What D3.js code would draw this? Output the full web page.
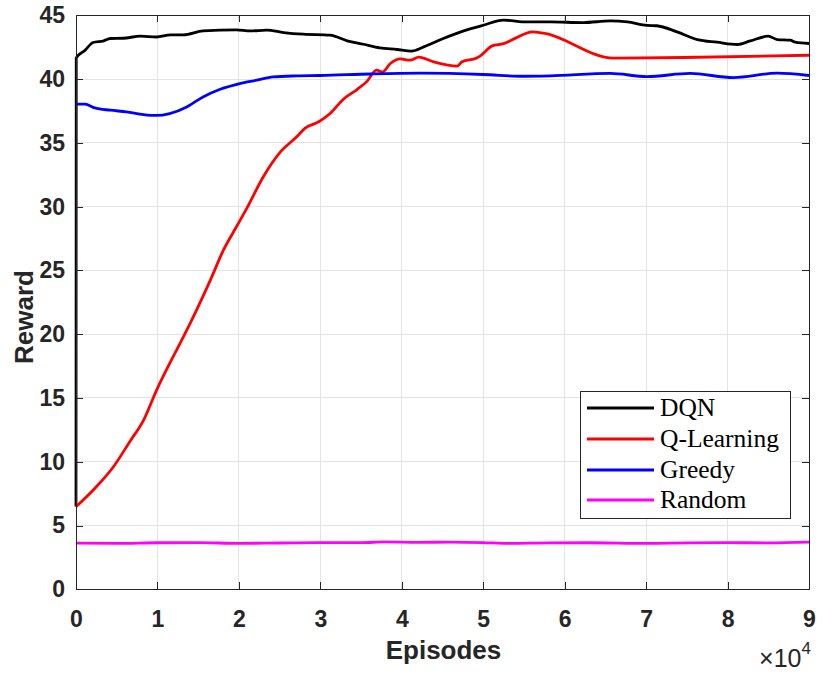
<!DOCTYPE html>
<html lang="en">
<head>
  <meta charset="UTF-8">
  <title>Reward vs Episodes</title>
  <script src="https://d3js.org/d3.v7.min.js"></script>
  <style>
    body, html {
      margin: 0;
      padding: 0;
      background-color: #fff;
    }

    .axis path, .axis line {
      stroke: #262626;
      shape-rendering: crispEdges;
    }

    .axis text {
      font-family: 'Liberation Sans', Arial, sans-serif;
      font-weight: bold;
      font-size: 23px;
      fill: #262626;
    }

    .grid line {
      stroke: #e3e3e3;
      stroke-width: 1;
      shape-rendering: crispEdges;
    }

    .label {
      font-family: 'Liberation Sans', Arial, sans-serif;
      font-weight: bold;
      font-size: 26px;
      fill: #262626;
    }

    .legend text {
      font-family: 'Liberation Serif', 'Times New Roman', serif;
      font-size: 25.5px;
      fill: #000;
    }
  </style>
</head>
<body>

  <svg id="chart"></svg>

  <script>
    // episodes in units of 10^4
    const dqnX = [0, 0.003, 0.11, 0.21, 0.34, 0.42, 0.58, 0.79, 0.99, 1.16, 1.32, 1.56, 1.97, 2.14, 2.34, 2.55, 2.79,
      3.12, 3.33, 3.53, 3.73, 3.94, 4.12, 4.27, 4.51, 4.76, 5.0, 5.25, 5.54, 5.82, 6.23, 6.56, 6.77, 7.01, 7.13,
      7.38, 7.63, 7.87, 8.12, 8.28, 8.50, 8.61, 8.77, 8.83, 9.0];
    const dqnY = [6.5, 41.66, 42.25, 42.87, 43.0, 43.18, 43.2, 43.36, 43.3, 43.47, 43.47, 43.78, 43.86, 43.78, 43.83, 43.65, 43.52,
      43.44, 43.0, 42.73, 42.45, 42.32, 42.19, 42.52, 43.18, 43.78, 44.22, 44.62, 44.48, 44.48, 44.43, 44.56, 44.48, 44.21, 44.18,
      43.7, 43.1, 42.89, 42.71, 42.99, 43.36, 43.1, 43.05, 42.89, 42.79];

    const qlX = [0, 0.25, 0.46, 0.66, 0.83, 0.99, 1.15, 1.32, 1.48, 1.65, 1.81, 1.97, 2.10, 2.30, 2.51, 2.71, 2.81, 2.98,
      3.12, 3.28, 3.45, 3.57, 3.69, 3.76, 3.86, 3.98, 4.10, 4.21, 4.39, 4.68, 4.74, 4.92, 4.96, 5.11, 5.25, 5.41,
      5.60, 5.74, 6.60, 7.46, 9.0];
    const qlY = [6.47, 8.04, 9.61, 11.57, 13.27, 15.62, 17.71, 19.8, 21.89, 24.24, 26.59, 28.42, 29.9, 32.34, 34.29, 35.47, 36.13, 36.65,
      37.3, 38.4, 39.18, 39.8, 40.7, 40.55, 41.22, 41.58, 41.48, 41.72, 41.35, 41.01, 41.35, 41.65, 41.8, 42.6, 42.78, 43.25,
      43.7, 43.6, 41.64, 41.69, 41.87];

    const greedyX = [0, 0.11, 0.23, 0.42, 0.62, 0.83, 0.99, 1.15, 1.36, 1.56, 1.77, 2.01, 2.22, 2.42, 2.71, 3.0,
      3.62, 4.23, 5.0, 5.5, 5.82, 6.56, 7.01, 7.54, 8.07, 8.61, 9.0];
    const greedyY = [38.03, 38.03, 37.74, 37.56, 37.43, 37.22, 37.15, 37.3, 37.82, 38.6, 39.2, 39.65, 39.91, 40.17, 40.25, 40.28,
      40.4, 40.46, 40.36, 40.22, 40.25, 40.44, 40.2, 40.44, 40.12, 40.46, 40.28];

    const randomX = [0, 0.5, 1.0, 1.5, 2.0, 2.5, 3.0, 3.5, 3.8, 4.2, 4.6, 5.0, 5.3, 5.8, 6.3, 7.0, 7.5, 8.0, 8.5, 9.0];
    const randomY = [3.62, 3.6, 3.65, 3.66, 3.6, 3.63, 3.66, 3.66, 3.72, 3.68, 3.7, 3.66, 3.6, 3.64, 3.65, 3.6, 3.64, 3.66, 3.64, 3.7];

    const seriesNames = ["DQN", "Q-Learning", "Greedy", "Random"];
    const seriesColors = ["#000000", "#ff0000", "#0000ff", "#ff00ff"];

    const xTicks = [0, 1, 2, 3, 4, 5, 6, 7, 8, 9];
    const yTicks = [0, 5, 10, 15, 20, 25, 30, 35, 40, 45];

    const width = 832;
    const height = 673;
    const plotL = 76, plotR = 809, plotT = 15.3, plotB = 589.3;

    const svg = d3.select("#chart")
      .attr("width", width)
      .attr("height", height);

    const x = d3.scaleLinear().domain([0, 9]).range([plotL, plotR]);
    const y = d3.scaleLinear().domain([0, 45]).range([plotB, plotT]);

    // grid
    svg.append("g")
      .attr("class", "grid")
      .selectAll("line")
      .data(xTicks.slice(1, -1))
      .enter().append("line")
      .attr("x1", d => x(d)).attr("x2", d => x(d))
      .attr("y1", plotT).attr("y2", plotB);

    svg.append("g")
      .attr("class", "grid")
      .selectAll("line")
      .data(yTicks.slice(1, -1))
      .enter().append("line")
      .attr("y1", d => y(d)).attr("y2", d => y(d))
      .attr("x1", plotL).attr("x2", plotR);

    // series
    const line = d3.line()
      .curve(d3.curveMonotoneX)
      .x(d => x(d[0]))
      .y(d => y(d[1]));

    const allX = [dqnX, qlX, greedyX, randomX];
    const allY = [dqnY, qlY, greedyY, randomY];

    allX.forEach((xs, i) => {
      svg.append("path")
        .datum(xs.map((v, j) => [v, allY[i][j]]))
        .attr("fill", "none")
        .attr("stroke", seriesColors[i])
        .attr("stroke-width", 2.8)
        .attr("stroke-linejoin", "round")
        .attr("d", line);
    });

    // axes, ticks pointing inward
    svg.append("g")
      .attr("class", "axis")
      .attr("transform", "translate(0," + plotB + ")")
      .call(d3.axisBottom(x).tickValues(xTicks).tickSize(-7).tickSizeOuter(0).tickPadding(21));

    svg.append("g")
      .attr("class", "axis")
      .attr("transform", "translate(0," + plotT + ")")
      .call(d3.axisTop(x).tickValues(xTicks).tickSize(-7).tickSizeOuter(0).tickFormat(""));

    svg.append("g")
      .attr("class", "axis")
      .attr("transform", "translate(" + plotL + ",0)")
      .call(d3.axisLeft(y).tickValues(yTicks).tickSize(-7).tickSizeOuter(0).tickPadding(11));

    svg.append("g")
      .attr("class", "axis")
      .attr("transform", "translate(" + plotR + ",0)")
      .call(d3.axisRight(y).tickValues(yTicks).tickSize(-7).tickSizeOuter(0).tickFormat(""));

    // axis labels
    svg.append("text")
      .attr("class", "label")
      .attr("x", (plotL + plotR) / 2 + 1)
      .attr("y", 659)
      .attr("text-anchor", "middle")
      .text("Episodes");

    svg.append("text")
      .attr("class", "label")
      .attr("transform", "translate(33,317) rotate(-90)")
      .attr("text-anchor", "middle")
      .text("Reward");

    const mult = svg.append("text")
      .attr("x", plotR + 2)
      .attr("y", 667)
      .attr("text-anchor", "end")
      .style("font-family", "'Liberation Sans', Arial, sans-serif")
      .style("font-size", "25px")
      .style("fill", "#262626");
    mult.append("tspan").text("\u00d710");
    mult.append("tspan").attr("dy", -13).style("font-size", "17px").text("4");

    // legend
    const legend = svg.append("g").attr("class", "legend");

    legend.append("rect")
      .attr("x", 580.5).attr("y", 391.5)
      .attr("width", 210).attr("height", 127)
      .attr("fill", "#fff")
      .attr("stroke", "#262626")
      .attr("stroke-width", 1);

    const rowY = [408, 439, 470, 500];

    seriesNames.forEach((name, i) => {
      legend.append("line")
        .attr("x1", 587).attr("x2", 654)
        .attr("y1", rowY[i]).attr("y2", rowY[i])
        .attr("stroke", seriesColors[i])
        .attr("stroke-width", 2.8);
      legend.append("text")
        .attr("x", 660)
        .attr("y", rowY[i] + 8)
        .text(name);
    });
  </script>
</body>
</html>
